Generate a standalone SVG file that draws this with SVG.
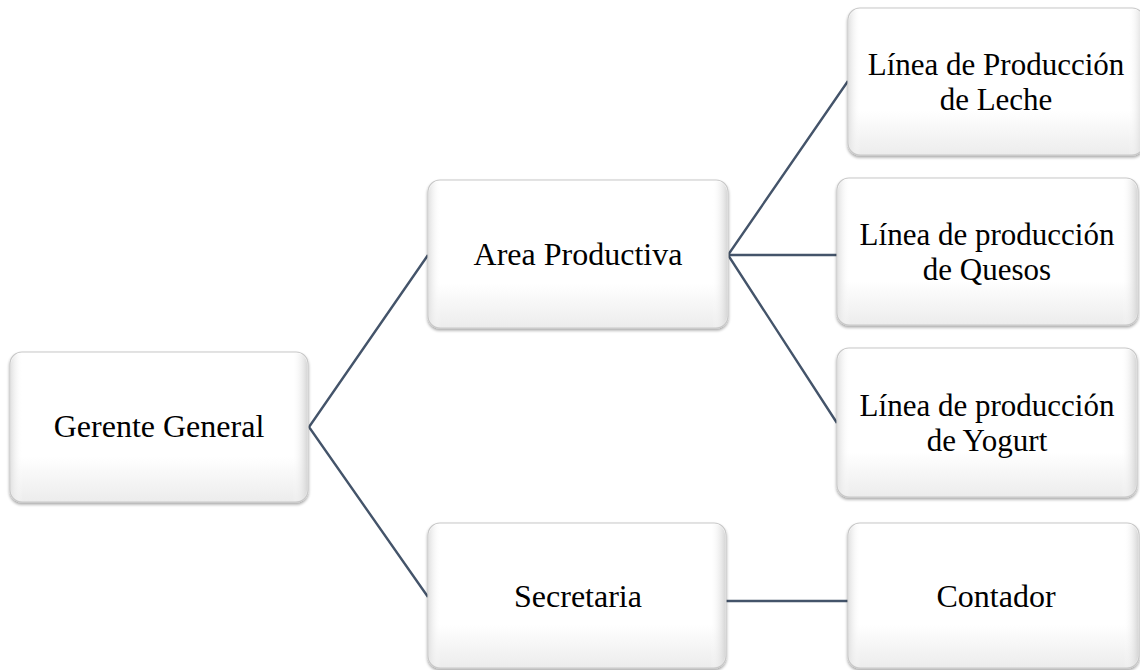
<svg xmlns="http://www.w3.org/2000/svg" width="1140" height="670" viewBox="0 0 1140 670">
  <defs>
    <linearGradient id="boxFill" x1="0" y1="0" x2="0" y2="1">
      <stop offset="0" stop-color="#ffffff"/>
      <stop offset="0.7" stop-color="#ffffff"/>
      <stop offset="1" stop-color="#ececec"/>
    </linearGradient>
    <linearGradient id="sideShade" x1="0" y1="0" x2="1" y2="0">
      <stop offset="0" stop-color="#e4e4e4"/>
      <stop offset="0.04" stop-color="#ffffff" stop-opacity="0"/>
      <stop offset="0.95" stop-color="#ffffff" stop-opacity="0"/>
      <stop offset="1" stop-color="#d8d8d8"/>
    </linearGradient>
    <filter id="soft" x="-5%" y="-5%" width="110%" height="115%">
      <feGaussianBlur in="SourceAlpha" stdDeviation="1.5"/>
      <feOffset dx="0" dy="1.5" result="b"/>
      <feComponentTransfer><feFuncA type="linear" slope="0.35"/></feComponentTransfer>
      <feMerge><feMergeNode/><feMergeNode in="SourceGraphic"/></feMerge>
    </filter>
  </defs>
  <style>
    .box { fill: url(#boxFill); stroke: #c8c8c8; stroke-width: 1.2; filter: url(#soft); }
    .shade { fill: url(#sideShade); stroke: none; }
    .label { font-family: "Liberation Serif", "Times New Roman", serif; font-size: 32px; fill: #000; text-anchor: middle; }
    .label2 { font-family: "Liberation Serif", "Times New Roman", serif; font-size: 31px; fill: #000; text-anchor: middle; }
    .link { stroke: #44546a; stroke-width: 2.4; fill: none; }
  </style>

  <rect width="1140" height="670" fill="#ffffff"/>

  <!-- connectors -->
  <g id="connectors">
    <polyline class="link" points="428,255 309,427 428,597"/>
    <polyline class="link" points="848,81 728,255 837,423"/>
    <line class="link" x1="728" y1="255" x2="837" y2="255"/>
    <line class="link" x1="726" y1="601" x2="848" y2="601"/>
  </g>

  <!-- nodes -->
  <g id="node-gerente">
    <rect class="box" x="10" y="352" width="298" height="150" rx="12"/>
    <rect class="shade" x="11" y="353" width="296" height="148" rx="11"/>
    <text class="label" x="159" y="437">Gerente General</text>
  </g>

  <g id="node-area">
    <rect class="box" x="428" y="180" width="300" height="148" rx="12"/>
    <rect class="shade" x="429" y="181" width="298" height="146" rx="11"/>
    <text class="label" x="578" y="265">Area Productiva</text>
  </g>

  <g id="node-leche">
    <rect class="box" x="848" y="8" width="296" height="147" rx="12"/>
    <rect class="shade" x="849" y="9" width="294" height="145" rx="11"/>
    <text class="label2" x="996" y="75">Línea de Producción</text>
    <text class="label2" x="996" y="110">de Leche</text>
  </g>

  <g id="node-quesos">
    <rect class="box" x="837" y="178" width="301" height="147" rx="12"/>
    <rect class="shade" x="838" y="179" width="299" height="145" rx="11"/>
    <text class="label2" x="987" y="245">Línea de producción</text>
    <text class="label2" x="987" y="280">de Quesos</text>
  </g>

  <g id="node-yogurt">
    <rect class="box" x="837" y="348" width="300" height="149" rx="12"/>
    <rect class="shade" x="838" y="349" width="298" height="147" rx="11"/>
    <text class="label2" x="987" y="416">Línea de producción</text>
    <text class="label2" x="987" y="451">de Yogurt</text>
  </g>

  <g id="node-secretaria">
    <rect class="box" x="428" y="523" width="298" height="145" rx="12"/>
    <rect class="shade" x="429" y="524" width="296" height="143" rx="11"/>
    <text class="label" x="578" y="607">Secretaria</text>
  </g>

  <g id="node-contador">
    <rect class="box" x="848" y="523" width="291" height="145" rx="12"/>
    <rect class="shade" x="849" y="524" width="289" height="143" rx="11"/>
    <text class="label" x="996" y="607">Contador</text>
  </g>
</svg>
